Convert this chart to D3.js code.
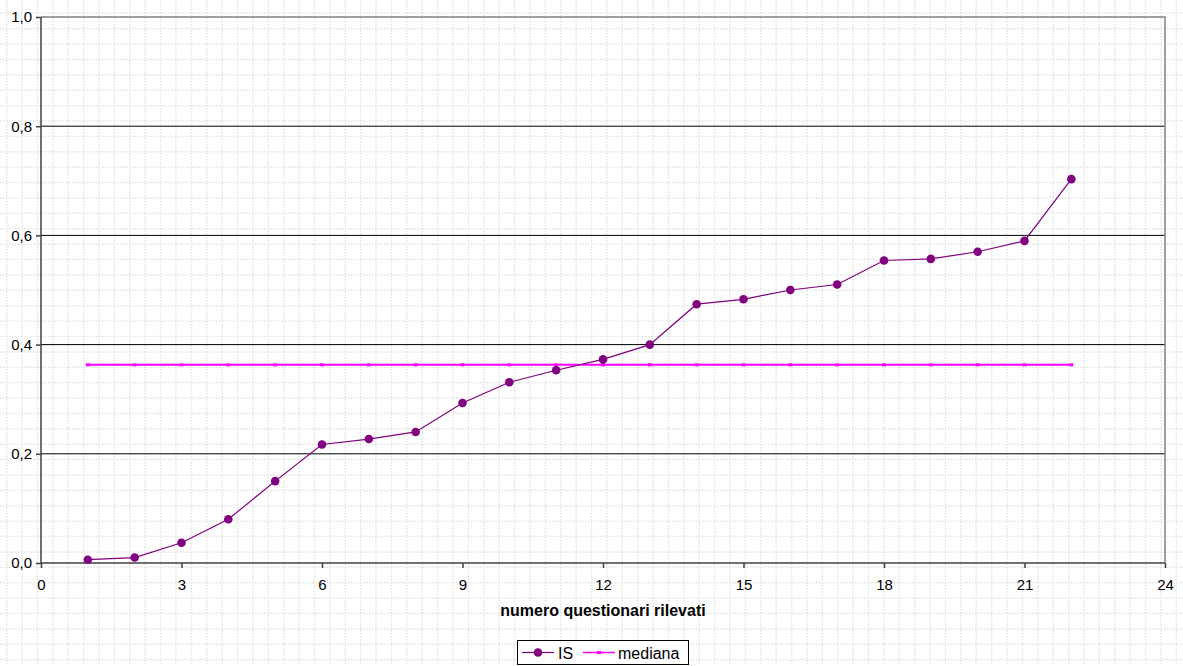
<!DOCTYPE html>
<html><head><meta charset="utf-8">
<script src="https://cdn.jsdelivr.net/npm/d3@7"></script>
<style>body{margin:0;background:#fff}svg{display:block;font-family:"Liberation Sans",Arial,sans-serif}</style>
</head><body>
<svg id="c" width="1183" height="666"></svg>
<script>
const questionari = [1,2,3,4,5,6,7,8,9,10,11,12,13,14,15,16,17,18,19,20,21,22];
const isValues = [0.006,0.010,0.037,0.080,0.150,0.217,0.227,0.240,0.293,0.331,0.353,0.373,0.400,0.474,0.483,0.500,0.510,0.554,0.557,0.570,0.590,0.703];
const medianaValue = 0.363;
const xTicks = [0,3,6,9,12,15,18,21,24];
const yTicks = [0,0.2,0.4,0.6,0.8,1.0];
const xTitle = "numero questionari rilevati";
const seriesNames = ["IS","mediana"];

const W=1183,H=666;
const svg=d3.select("#c");
// page background dotted grid
const bg=svg.append("g");
d3.range(6.7,W,15.39).forEach(x=>bg.append("line").attr("x1",x).attr("x2",x).attr("y1",0).attr("y2",H));
d3.range(13.3-15.39,H,15.39).forEach(y=>bg.append("line").attr("x1",0).attr("x2",W).attr("y1",y).attr("y2",y));
bg.selectAll("line").attr("stroke","#e4e4e4").attr("stroke-width",1.5).attr("stroke-dasharray","1.5,1.5");

const x=d3.scaleLinear().domain([0,24]).range([41,1165]);
const y=d3.scaleLinear().domain([0,1]).range([563,17]);

// gridlines
svg.append("g").selectAll("line").data(yTicks.filter(t=>t>0&&t<1)).join("line")
  .attr("x1",x(0)).attr("x2",x(24)).attr("y1",d=>y(d)).attr("y2",d=>y(d))
  .attr("stroke","#000").attr("stroke-width",1);
// plot border top/right
svg.append("path").attr("d",`M${x(0)},${y(1)}H${x(24)}V${y(0)}`).attr("fill","none").attr("stroke","#808080").attr("stroke-width",1.5);

// axes
const xa=svg.append("g").attr("transform",`translate(0,${y(0)})`)
  .call(d3.axisBottom(x).tickValues(xTicks).tickSize(5).tickPadding(11).tickFormat(d3.format("d")));
const ya=svg.append("g").attr("transform",`translate(${x(0)},0)`)
  .call(d3.axisLeft(y).tickValues(yTicks).tickSize(5).tickPadding(4).tickFormat(d=>d3.format(".1f")(d).replace(".",",")));
[xa,ya].forEach(a=>{a.select(".domain").attr("stroke","#404040").attr("stroke-width",1.5);
  a.selectAll(".tick line").attr("stroke","#404040").attr("stroke-width",1.5);
  a.selectAll("text").attr("font-size",15).attr("fill","#000").attr("font-family","Liberation Sans, Arial, sans-serif");});
xa.select(".domain").attr("d",`M${x(0)},0H${x(24)}`);
ya.select(".domain").attr("d",`M0,${y(0)}V${y(1)}`);

// mediana line
const medData=questionari.map(q=>({q,v:medianaValue}));
svg.append("path").datum(medData).attr("fill","none").attr("stroke","#ff00ff").attr("stroke-width",2)
  .attr("d",d3.line().x(d=>x(d.q)).y(d=>y(d.v)));
svg.append("g").selectAll("rect").data(medData).join("rect")
  .attr("x",d=>x(d.q)-2).attr("y",d=>y(d.v)-1.5).attr("width",4).attr("height",3).attr("fill","#ff00ff");

// IS line
const isData=questionari.map((q,i)=>({q,v:isValues[i]}));
svg.append("path").datum(isData).attr("fill","none").attr("stroke","#800080").attr("stroke-width",1.2)
  .attr("d",d3.line().x(d=>x(d.q)).y(d=>y(d.v)));
svg.append("g").selectAll("circle").data(isData).join("circle")
  .attr("cx",d=>x(d.q)).attr("cy",d=>y(d.v)).attr("r",4.3).attr("fill","#800080");

// x title
svg.append("text").attr("x",603).attr("y",616).attr("text-anchor","middle").attr("font-weight","bold")
  .attr("font-size",16).text(xTitle);

// legend
const lg=svg.append("g");
lg.append("rect").attr("x",517.5).attr("y",640.5).attr("width",171).attr("height",24).attr("fill","#fff").attr("stroke","#000").attr("stroke-width",1);
lg.append("line").attr("x1",522).attr("x2",554).attr("y1",652.5).attr("y2",652.5).attr("stroke","#800080").attr("stroke-width",1.2);
lg.append("circle").attr("cx",538).attr("cy",652.5).attr("r",4.3).attr("fill","#800080");
lg.append("text").attr("x",558).attr("y",658.5).attr("font-size",16).text(seriesNames[0]);
lg.append("line").attr("x1",583).attr("x2",615).attr("y1",652.5).attr("y2",652.5).attr("stroke","#ff00ff").attr("stroke-width",1.5);
lg.append("rect").attr("x",597).attr("y",651).attr("width",4).attr("height",3).attr("fill","#ff00ff");
lg.append("text").attr("x",618).attr("y",658.5).attr("font-size",16).text(seriesNames[1]);
</script>
</body></html>
